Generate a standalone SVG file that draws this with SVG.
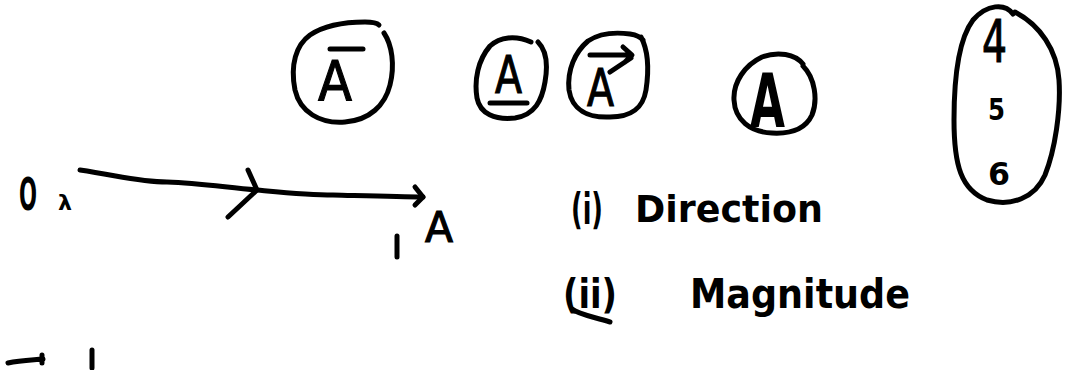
<svg xmlns="http://www.w3.org/2000/svg" width="1077" height="370" viewBox="0 0 1077 370">
<style>
.s{fill:none;stroke:#000;stroke-width:5;stroke-linecap:round;stroke-linejoin:round}
.t{font-family:"DejaVu Sans","Liberation Sans",sans-serif;fill:#000;font-weight:bold}
.n{font-weight:normal;stroke:#000;stroke-width:1.2}
</style>
<rect width="1077" height="370" fill="#fff"/>
<g id="bar-A">
<path class="s" d="M384,33 C392,45 395,65 390,85 C385,105 370,120 345,122 C320,124 300,112 295,90 C290,65 296,45 310,35 C325,25 345,22 365,22 C372,22 377,23 379,25"/>
<path class="s" d="M330,49 L363,49"/>
<text class="t n" x="318" y="100" font-size="56" textLength="34" lengthAdjust="spacingAndGlyphs">A</text>
</g>
<g id="underline-A">
<path class="s" d="M538,42 C546,50 548,65 545,82 C542,100 535,115 515,118 C495,120 480,114 477,98 C474,80 478,60 490,46 C500,37 515,35 531,42"/>
<path class="s" d="M490,103 L527,103"/>
<text class="t n" x="495" y="93" font-size="52" textLength="27" lengthAdjust="spacingAndGlyphs">A</text>
</g>
<g id="arrow-A">
<path class="s" d="M641,37 C648,50 649,70 646,90 C643,108 632,117 610,117 C588,118 572,110 569,90 C567,70 575,52 588,41 C600,33 615,32 630,34 C636,35 640,36 643,40"/>
<path class="s" d="M590,55 L631,55 M623,47 L632,55 L625,62 M631,58 L610,72"/>
<text class="t n" x="587" y="106" font-size="52" textLength="27" lengthAdjust="spacingAndGlyphs">A</text>
</g>
<g id="bold-A">
<path class="s" d="M803,66 C815,78 818,100 812,115 C805,130 790,134 772,133 C750,132 735,120 734,100 C733,82 745,65 762,57 C778,51 795,54 803,64"/>
<text class="t" x="750" y="127" font-size="74" textLength="35" lengthAdjust="spacingAndGlyphs">A</text>
</g>
<g id="column">
<path class="s" d="M1013,14 C1005,3 987,4 973,20 C958,40 954,80 954,120 C954,165 961,190 987,200 C1011,207 1035,198 1045,175 C1055,150 1061,110 1059,80 C1057,50 1040,25 1015,12"/>
<text class="t n" x="982" y="62" font-size="58" textLength="25" lengthAdjust="spacingAndGlyphs">4</text>
<text class="t" x="988" y="120" font-size="31" textLength="17" lengthAdjust="spacingAndGlyphs">5</text>
<text class="t" x="988" y="185" font-size="32" textLength="22" lengthAdjust="spacingAndGlyphs">6</text>
</g>
<g id="vector-OA">
<path class="s" d="M80,170 C120,176 140,182 167,182 C200,183 230,188 257,190 C290,193 310,195 333,195 C370,196 400,197 423,197"/>
<path class="s" d="M415,187 L423,197 L415,205"/>
<path class="s" d="M248,170 L257,190 L228,217"/>
<path class="s" d="M397,236 L397,257"/>
<text class="t" x="19" y="210" font-size="44" textLength="18" lengthAdjust="spacingAndGlyphs">O</text>
<text class="t" x="58" y="210" font-size="22" textLength="14" lengthAdjust="spacingAndGlyphs">λ</text>
<text class="t n" x="425" y="242" font-size="42" textLength="28" lengthAdjust="spacingAndGlyphs">A</text>
</g>
<g id="properties">
<text class="t" x="571" y="224" font-size="42" textLength="32" lengthAdjust="spacingAndGlyphs">(i)</text>
<text class="t" x="635" y="222" font-size="38" textLength="188" lengthAdjust="spacingAndGlyphs">Direction</text>
<text class="t" x="563" y="308" font-size="40" textLength="54" lengthAdjust="spacingAndGlyphs">(ii)</text>
<path class="s" d="M572,309 C578,314 590,316 610,322"/>
<text class="t" x="690" y="308" font-size="40" textLength="220" lengthAdjust="spacingAndGlyphs">Magnitude</text>
</g>
<g id="fragments">
<path class="s" d="M8,363 C20,360 32,360 43,359 M42,355 L42,363"/>
<path class="s" d="M92,350 L92,368"/>
</g>
</svg>
